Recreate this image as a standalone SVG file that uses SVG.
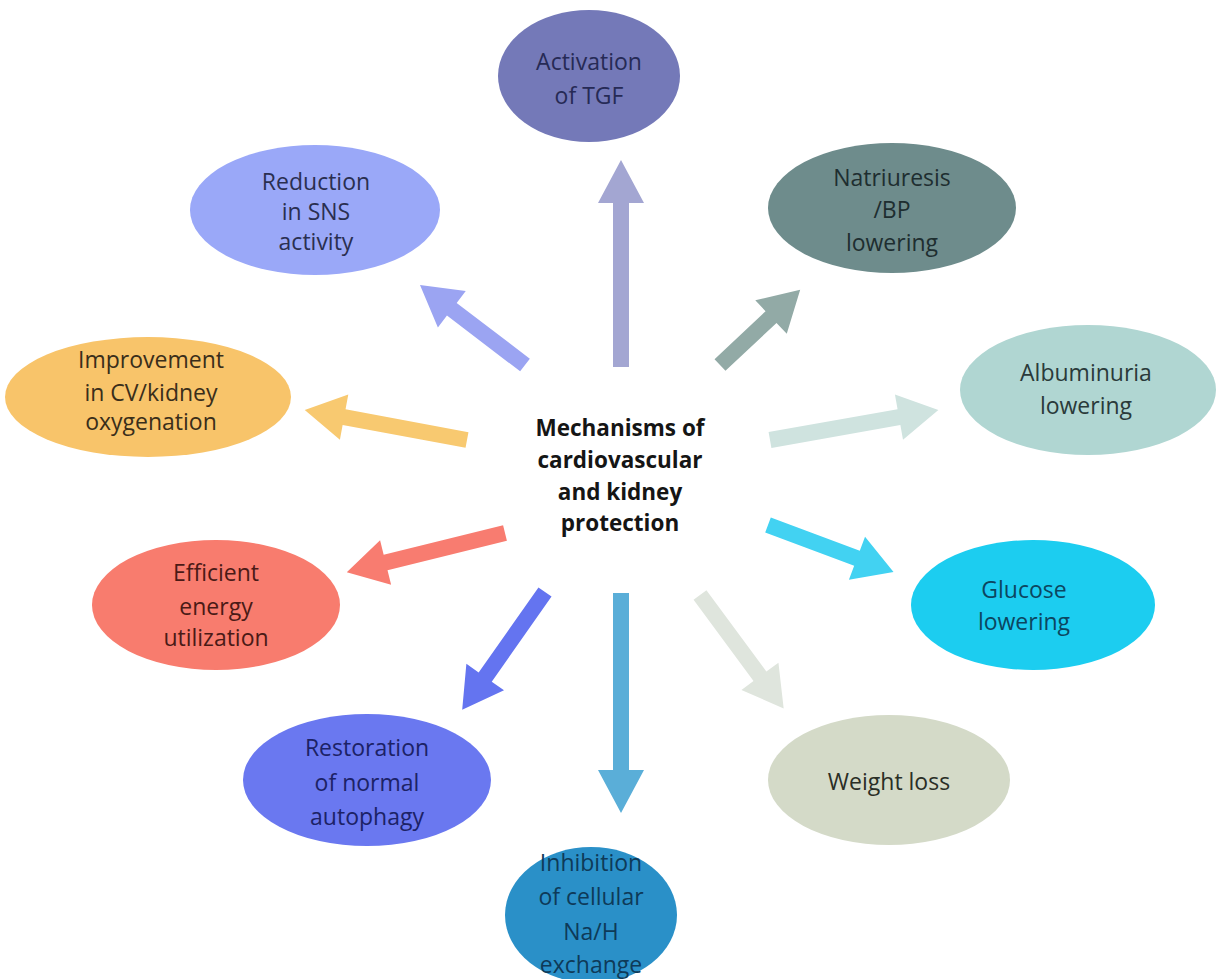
<svg xmlns="http://www.w3.org/2000/svg" width="1216" height="979" viewBox="0 0 1216 979">
  <style>
    .lbl { font-family: "Open Sans", "Liberation Sans", sans-serif; font-size: 23px; text-anchor: middle; }
    .hub { font-family: "Open Sans", "Liberation Sans", sans-serif; font-size: 22.5px; font-weight: bold; text-anchor: middle; fill: #151515; }
  </style>
  <rect width="1216" height="979" fill="#ffffff"/>

  <!-- block arrows radiating from the centre; each path is drawn along +x, tail at origin -->
  <g id="connectors">
    <path d="M0,-8 H164 V-23 L207,0 L164,23 V8 H0 Z" fill="#a3a6d2" transform="translate(621,367) rotate(-90)"/>
    <path d="M0,-8 H177 V-23 L220,0 L177,23 V8 H0 Z" fill="#5aaed8" transform="translate(621,593) rotate(90)"/>
    <path d="M0,-8 H92 V-23 L132,0 L92,23 V8 H0 Z" fill="#9ba4f2" transform="translate(525,365) rotate(-142.7)"/>
    <path d="M0,-8 H70 V-23 L110,0 L70,23 V8 H0 Z" fill="#92aaa6" transform="translate(720,365) rotate(-43.2)"/>
    <path d="M0,-8 H131 V-23 L171,0 L131,23 V8 H0 Z" fill="#cfe3df" transform="translate(770,440) rotate(-10.1)"/>
    <path d="M0,-8 H125 V-23 L165,0 L125,23 V8 H0 Z" fill="#f8c970" transform="translate(467,440) rotate(-169.5)"/>
    <path d="M0,-8 H123 V-23 L163,0 L123,23 V8 H0 Z" fill="#f87c70" transform="translate(505,533) rotate(166.1)"/>
    <path d="M0,-8 H95 V-23 L134,0 L95,23 V8 H0 Z" fill="#42d2f2" transform="translate(768,525) rotate(20.5)"/>
    <path d="M0,-8 H101 V-23 L141,0 L101,23 V8 H0 Z" fill="#dfe5dd" transform="translate(700,595) rotate(53.6)"/>
    <path d="M0,-8 H104 V-23 L144,0 L104,23 V8 H0 Z" fill="#6474f0" transform="translate(545,592) rotate(125.1)"/>
  </g>

  <g id="hub">
    <text class="hub" x="620" y="436">Mechanisms of</text>
    <text class="hub" x="620" y="468">cardiovascular</text>
    <text class="hub" x="620" y="500">and kidney</text>
    <text class="hub" x="620" y="531">protection</text>
  </g>

  <g id="tgf">
    <ellipse cx="589" cy="76" rx="91" ry="66" fill="#7479b8"/>
    <text class="lbl" x="589" y="70" fill="#262a55">Activation</text>
    <text class="lbl" x="589" y="104" fill="#262a55">of TGF</text>
  </g>

  <g id="natriuresis">
    <ellipse cx="892" cy="208" rx="124" ry="65" fill="#6e8c8c"/>
    <text class="lbl" x="892" y="186" fill="#1e2e30">Natriuresis</text>
    <text class="lbl" x="892" y="218" fill="#1e2e30">/BP</text>
    <text class="lbl" x="892" y="251" fill="#1e2e30">lowering</text>
  </g>

  <g id="sns">
    <ellipse cx="315" cy="210" rx="125" ry="65" fill="#9aa8f8"/>
    <text class="lbl" x="316" y="190" fill="#2a2f50">Reduction</text>
    <text class="lbl" x="316" y="220" fill="#2a2f50">in SNS</text>
    <text class="lbl" x="316" y="250" fill="#2a2f50">activity</text>
  </g>

  <g id="albuminuria">
    <ellipse cx="1088" cy="390" rx="128" ry="65" fill="#b0d6d2"/>
    <text class="lbl" x="1086" y="381" fill="#2a3a3a">Albuminuria</text>
    <text class="lbl" x="1086" y="414" fill="#2a3a3a">lowering</text>
  </g>

  <g id="oxygenation">
    <ellipse cx="148" cy="397" rx="143" ry="60" fill="#f8c46a"/>
    <text class="lbl" x="151" y="368" fill="#3a2e1a">Improvement</text>
    <text class="lbl" x="151" y="401" fill="#3a2e1a">in CV/kidney</text>
    <text class="lbl" x="151" y="430" fill="#3a2e1a">oxygenation</text>
  </g>

  <g id="energy">
    <ellipse cx="216" cy="605" rx="124" ry="65" fill="#f87c6e"/>
    <text class="lbl" x="216" y="581" fill="#4a1a16">Efficient</text>
    <text class="lbl" x="216" y="615" fill="#4a1a16">energy</text>
    <text class="lbl" x="216" y="646" fill="#4a1a16">utilization</text>
  </g>

  <g id="glucose">
    <ellipse cx="1033" cy="605" rx="122" ry="65" fill="#1ccdf0"/>
    <text class="lbl" x="1024" y="598" fill="#0c4660">Glucose</text>
    <text class="lbl" x="1024" y="630" fill="#0c4660">lowering</text>
  </g>

  <g id="weight">
    <ellipse cx="889" cy="780" rx="121" ry="65" fill="#d4dac8"/>
    <text class="lbl" x="889" y="790" fill="#2a2e26">Weight loss</text>
  </g>

  <g id="autophagy">
    <ellipse cx="367" cy="780" rx="124" ry="66" fill="#6a78f0"/>
    <text class="lbl" x="367" y="756" fill="#1c2266">Restoration</text>
    <text class="lbl" x="367" y="791" fill="#1c2266">of normal</text>
    <text class="lbl" x="367" y="825" fill="#1c2266">autophagy</text>
  </g>

  <g id="nah">
    <ellipse cx="591" cy="915" rx="86" ry="68" fill="#2a90c8"/>
    <text class="lbl" x="591" y="871" fill="#0e3a58">Inhibition</text>
    <text class="lbl" x="591" y="905" fill="#0e3a58">of cellular</text>
    <text class="lbl" x="591" y="940" fill="#0e3a58">Na/H</text>
    <text class="lbl" x="591" y="973" fill="#0e3a58">exchange</text>
  </g>
</svg>
